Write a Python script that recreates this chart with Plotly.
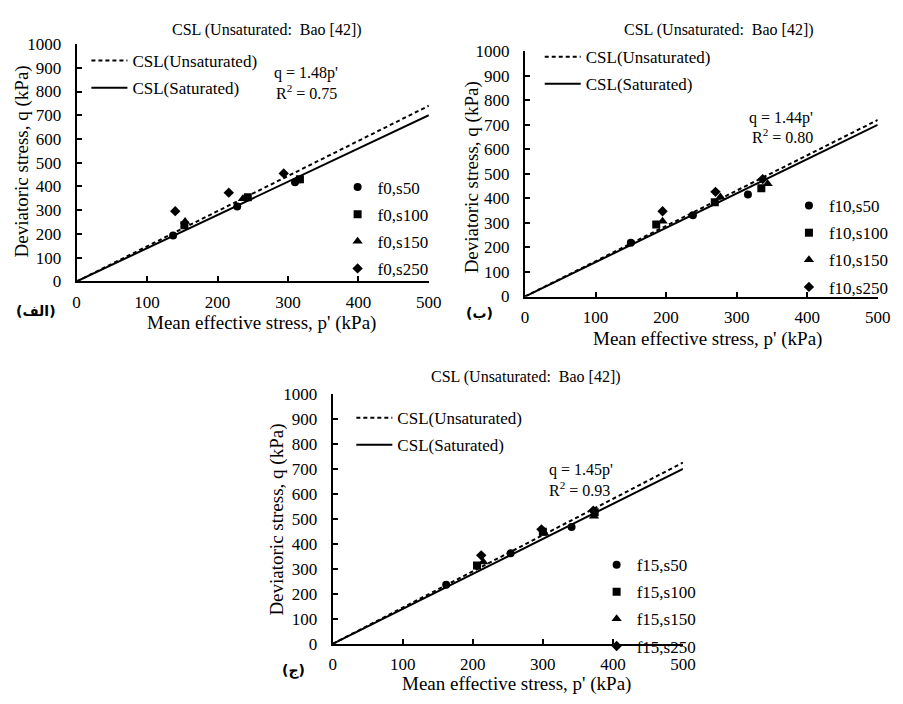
import plotly.graph_objects as go

SERIF = "Liberation Serif, Times New Roman, serif"

# ---------------- data ----------------
panel_titles = ["CSL (Unsaturated:  Bao [42])"] * 3
panel_tags = ["(الف)", "(ب)", "(ج)"]
series_names_a = ["f0,s50", "f0,s100", "f0,s150", "f0,s250"]
series_names_b = ["f10,s50", "f10,s100", "f10,s150", "f10,s250"]
series_names_c = ["f15,s50", "f15,s100", "f15,s150", "f15,s250"]

# panel A (f0)
a_s50_p = [137, 228, 310]
a_s50_q = [193, 316, 418]
a_s100_p = [153, 243, 317]
a_s100_q = [237, 355, 430]
a_s150_p = [154, 236, 312]
a_s150_q = [253, 348, 423]
a_s250_p = [140, 216, 294]
a_s250_q = [296, 374, 455]

# panel B (f10)
b_s50_p = [150, 238, 316]
b_s50_q = [219, 331, 416]
b_s100_p = [186, 269, 335]
b_s100_q = [294, 384, 442]
b_s150_p = [195, 277, 344]
b_s150_q = [307, 406, 460]
b_s250_p = [195, 270, 337]
b_s250_q = [348, 427, 479]

# panel C (f15)
c_s50_p = [162, 254, 341]
c_s50_q = [237, 362, 467]
c_s100_p = [206, 300, 374]
c_s100_q = [313, 448, 526]
c_s150_p = [215, 302, 373]
c_s150_q = [327, 442, 510]
c_s250_p = [212, 298, 372]
c_s250_q = [354, 458, 533]

# CSL lines (endpoints)
line_p = [0, 500]
unsat_q_a = [0, 740]
unsat_q_b = [0, 720]
unsat_q_c = [0, 725]
sat_q = [0, 700]

fit_eq = ["q = 1.48p'", "q = 1.44p'", "q = 1.45p'"]
fit_r2 = ["R<sup>2</sup> = 0.75", "R<sup>2</sup> = 0.80", "R<sup>2</sup> = 0.93"]

x_ticks = [0, 100, 200, 300, 400, 500]
y_ticks = [0, 100, 200, 300, 400, 500, 600, 700, 800, 900, 1000]

# ---------------- layout helpers ----------------
W, H = 903, 704
def px(x):
    return x / W
def py(y):
    return 1 - y / H

# axes boxes in pixels: (left, right, bottom(y=0), top(y=1000))
boxes = [(74, 433, 280, 36), (531, 890.5, 295.5, 43.5), (335, 692, 652.5, 395.5)]

symbols = ["circle", "square", "triangle-up", "diamond"]
sizes = [8, 8, 9, 8]

panels = [
    (series_names_a, [(a_s50_p, a_s50_q), (a_s100_p, a_s100_q), (a_s150_p, a_s150_q), (a_s250_p, a_s250_q)], unsat_q_a),
    (series_names_b, [(b_s50_p, b_s50_q), (b_s100_p, b_s100_q), (b_s150_p, b_s150_q), (b_s250_p, b_s250_q)], unsat_q_b),
    (series_names_c, [(c_s50_p, c_s50_q), (c_s100_p, c_s100_q), (c_s150_p, c_s150_q), (c_s250_p, c_s250_q)], unsat_q_c),
]

fig = go.Figure()
layout = dict(
    width=W, height=H, margin=dict(l=0, r=0, t=0, b=0),
    paper_bgcolor="white", plot_bgcolor="white",
    font=dict(family=SERIF, size=16, color="black"),
    annotations=[],
)

# legend placements (paper px): (left, top) for line legend and marker legend
line_leg = [(84, 35), (546, 31), (354, 402)]
mark_leg = [(340, 165), (800, 184), (604, 553)]

for i, (names, pts, unsat_q) in enumerate(panels):
    xa = "x" if i == 0 else f"x{i+1}"
    ya = "y" if i == 0 else f"y{i+1}"
    lg_line = "legend" if i == 0 else f"legend{2*i+1}"
    lg_mark = f"legend{2*i+2}"
    fig.add_trace(go.Scatter(x=line_p, y=unsat_q, mode="lines", name="CSL(Unsaturated)",
                             line=dict(color="black", width=2, dash="4px,3px"),
                             xaxis=xa, yaxis=ya, legend=lg_line, legendgroup=f"u{i}"))
    fig.add_trace(go.Scatter(x=line_p, y=sat_q, mode="lines", name="CSL(Saturated)",
                             line=dict(color="black", width=2),
                             xaxis=xa, yaxis=ya, legend=lg_line, legendgroup=f"s{i}"))
    for k, (pp, qq) in enumerate(pts):
        fig.add_trace(go.Scatter(x=pp, y=qq, mode="markers", name=names[k],
                                 marker=dict(symbol=symbols[k], size=sizes[k], color="black"),
                                 xaxis=xa, yaxis=ya, legend=lg_mark, legendgroup=f"m{i}{k}"))

    l, r, b, t = boxes[i]
    axis_common = dict(showline=True, linecolor="black", linewidth=2, mirror=False,
                       ticks="inside", ticklen=5, tickwidth=1.5, tickcolor="black",
                       showgrid=False, zeroline=False,
                       tickfont=dict(family=SERIF, size=17, color="black"))
    layout["xaxis" if i == 0 else f"xaxis{i+1}"] = dict(
        domain=[px(l), px(r)], range=[0, 500], tickvals=x_ticks,
        anchor=ya, ticklabelstandoff=4, **axis_common)
    layout["yaxis" if i == 0 else f"yaxis{i+1}"] = dict(
        domain=[py(b), py(t)], range=[0, 1000], tickvals=y_ticks,
        anchor=xa, ticklabelstandoff=10, **axis_common)

    ll, lt = line_leg[i]
    ml, mt = mark_leg[i]
    legend_common = dict(bgcolor="rgba(0,0,0,0)", borderwidth=0, traceorder="grouped",
                         font=dict(family=SERIF, size=17, color="black"),
                         xanchor="left", yanchor="top")
    layout[lg_line] = dict(x=px(ll), y=py(lt), itemwidth=36, tracegroupgap=2, **legend_common)
    layout[lg_mark] = dict(x=px(ml), y=py(mt), itemwidth=30, tracegroupgap=2, **legend_common)

# text annotations
title_pos = [(268, 22), (729, 22), (532, 378)]
xt_pos = [(262, 323), (717, 339), (522, 694)]
yt_pos = [(18, 157), (477, 173), (278, 525)]
eq_pos = [(308, 66), (792, 112), (588, 474)]
r2_pos = [(308, 85), (793, 131), (587, 493)]
tag_pos = [(33, 310), (485, 312), (295, 680)]

for i in range(3):
    layout["annotations"] += [
        dict(text=panel_titles[i], x=px(title_pos[i][0]), y=py(title_pos[i][1]), xref="paper", yref="paper",
             showarrow=False, font=dict(family=SERIF, size=16), xanchor="center", yanchor="middle"),
        dict(text="Mean effective stress, p' (kPa)", x=px(xt_pos[i][0]), y=py(xt_pos[i][1]), xref="paper",
             yref="paper", showarrow=False, font=dict(family=SERIF, size=19), xanchor="center", yanchor="middle"),
        dict(text="Deviatoric stress, q (kPa)", x=px(yt_pos[i][0]), y=py(yt_pos[i][1]), xref="paper",
             yref="paper", showarrow=False, textangle=-90, font=dict(family=SERIF, size=19),
             xanchor="center", yanchor="middle"),
        dict(text=fit_eq[i], x=px(eq_pos[i][0]), y=py(eq_pos[i][1]), xref="paper", yref="paper",
             showarrow=False, font=dict(family=SERIF, size=16), xanchor="center", yanchor="middle"),
        dict(text=fit_r2[i], x=px(r2_pos[i][0]), y=py(r2_pos[i][1]), xref="paper", yref="paper",
             showarrow=False, font=dict(family=SERIF, size=16), xanchor="center", yanchor="middle"),
        dict(text="<b>" + panel_tags[i] + "</b>", x=px(tag_pos[i][0]), y=py(tag_pos[i][1]), xref="paper",
             yref="paper", showarrow=False, font=dict(family="DejaVu Sans", size=14),
             xanchor="center", yanchor="middle"),
    ]

fig.update_layout(**layout)
fig.write_html("out.html")
